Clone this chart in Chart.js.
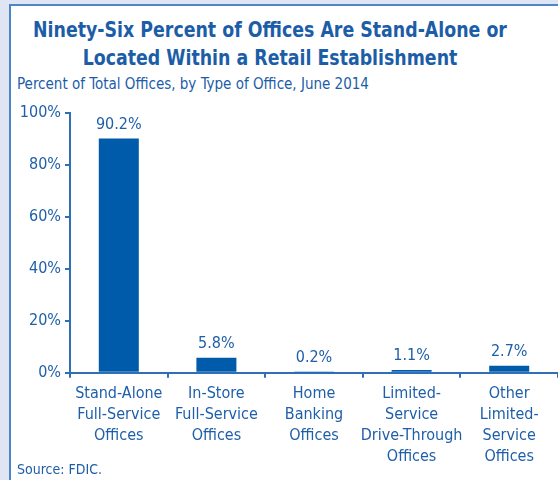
<!DOCTYPE html>
<html>
<head>
<meta charset="utf-8">
<script src="https://cdn.jsdelivr.net/npm/chart.js@4"></script>
<style>
    html, body { margin: 0; padding: 0; }
    body { width: 558px; height: 480px; background: #dfe5f2; position: relative; overflow: hidden; }
    #panel { position: absolute; left: 9px; top: 4px; width: 600px; height: 520px; background: #fff; border: 2px solid #4a86c8; }
    #wrap { position: absolute; left: 0; top: 0; width: 558px; height: 480px; }
    .txt { position: absolute; color: #1c5da8; font-family: "DejaVu Sans Condensed", sans-serif; white-space: nowrap; }
    #title { left: 0; top: 16px; width: 540px; text-align: center; font-size: 21px; font-weight: bold; line-height: 28px; transform: scaleX(0.92); transform-origin: 270px 0; }
    #subtitle { left: 17px; top: 74px; font-size: 15px; line-height: 20px; }
    #source { left: 17px; top: 460px; font-size: 14px; line-height: 18px; }
</style>
</head>
<body>
<div id="panel"></div>
<div id="title" class="txt">Ninety-Six Percent of Offices Are Stand-Alone or<br>Located Within a Retail Establishment</div>
<div id="subtitle" class="txt">Percent of Total Offices, by Type of Office, June 2014</div>
<div id="wrap"><canvas id="officeChart"></canvas></div>
<div id="source" class="txt">Source: FDIC.</div>
<script>
const categories = [
    ["Stand-Alone", "Full-Service", "Offices"],
    ["In-Store", "Full-Service", "Offices"],
    ["Home", "Banking", "Offices"],
    ["Limited-", "Service", "Drive-Through", "Offices"],
    ["Other", "Limited-", "Service", "Offices"]
];
const percentValues = [90.2, 5.8, 0.2, 1.1, 2.7];
const yTicks = [0, 20, 40, 60, 80, 100];

const textBlue = "#1f5fa9";
const barBlue = "#005bab";
const axisBlue = "#2f6fb8";
const narrowFont = "'DejaVu Sans Condensed', sans-serif";

const valueLabels = {
    id: "valueLabels",
    afterDatasetsDraw(chart) {
        const ctx = chart.ctx;
        const meta = chart.getDatasetMeta(0);
        ctx.save();
        ctx.font = "16px " + narrowFont;
        ctx.fillStyle = textBlue;
        ctx.textAlign = "center";
        ctx.textBaseline = "bottom";
        meta.data.forEach((bar, i) => {
            ctx.fillText(percentValues[i].toFixed(1) + "%", bar.x, bar.y - 6);
        });
        ctx.restore();
    }
};

function renderChart() {
    const canvas = document.getElementById("officeChart");
    const ctx = canvas.getContext("2d");

    new Chart(ctx, {
        type: "bar",
        data: {
            labels: categories,
            datasets: [{
                data: percentValues,
                backgroundColor: barBlue,
                barPercentage: 0.41,
                categoryPercentage: 1
            }]
        },
        options: {
            responsive: true,
            maintainAspectRatio: false,
            animation: false,
            layout: { padding: { left: 0, right: 0, top: 113, bottom: 7 } },
            plugins: {
                legend: { display: false },
                tooltip: { enabled: false }
            },
            scales: {
                x: {
                    grid: { drawOnChartArea: false, drawTicks: true, tickLength: 5, color: axisBlue, lineWidth: 2 },
                    border: { color: axisBlue, width: 2 },
                    ticks: {
                        color: textBlue,
                        font: { family: narrowFont, size: 16, lineHeight: 1.3 },
                        maxRotation: 0,
                        autoSkip: false,
                        padding: 6
                    }
                },
                y: {
                    min: 0,
                    max: 100,
                    afterBuildTicks: (scale) => { scale.ticks = yTicks.map(v => ({ value: v })); },
                    afterFit: (scale) => { scale.width = 70; },
                    grid: { drawOnChartArea: false, drawTicks: true, tickLength: 5, color: axisBlue, lineWidth: 2 },
                    border: { color: axisBlue, width: 2 },
                    ticks: {
                        color: textBlue,
                        font: { family: narrowFont, size: 16 },
                        padding: 4,
                        callback: (v) => v + "%"
                    }
                }
            }
        },
        plugins: [valueLabels]
    });
}

document.addEventListener("DOMContentLoaded", () => {
    renderChart();
});
</script>
</body>
</html>
